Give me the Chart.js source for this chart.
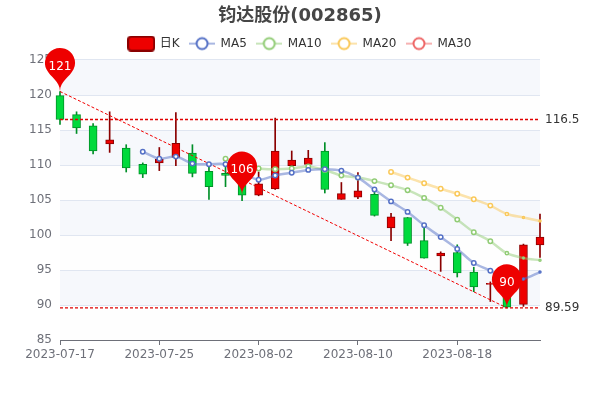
<!DOCTYPE html>
<html>
<head>
<meta charset="utf-8">
<title>钧达股份(002865)</title>
<script src="https://cdn.jsdelivr.net/npm/chart.js@4"></script>
<style>
  html, body { margin: 0; padding: 0; background: #fff; }
  canvas { display: block; }
</style>
</head>
<body>
<canvas id="klineChart" width="600" height="400"></canvas>
<script>
const dates = ['2023-07-17','2023-07-18','2023-07-19','2023-07-20','2023-07-21','2023-07-24','2023-07-25','2023-07-26','2023-07-27','2023-07-28',
  '2023-07-31','2023-08-01','2023-08-02','2023-08-03','2023-08-04','2023-08-07','2023-08-08','2023-08-09','2023-08-10','2023-08-11',
  '2023-08-14','2023-08-15','2023-08-16','2023-08-17','2023-08-18','2023-08-21','2023-08-22','2023-08-23','2023-08-24','2023-08-25'];

// K line values
const opens  = [119.9,117.2,115.6,113.0,112.4,110.1,110.3,111.1,111.7,109.1,108.8,108.0,105.7,106.6,109.9,110.1,112.0,105.1,105.4,105.8,101.0,102.5,99.2,97.0,97.5,94.7,92.95,92.0,90.1,98.6];
const closes = [116.5,115.3,112.0,113.6,109.6,108.7,110.8,113.1,108.8,106.9,108.5,105.7,107.3,112.0,110.7,111.0,106.5,105.9,106.3,102.8,102.6,98.8,96.7,97.4,94.6,92.6,93.1,89.7,98.6,99.7];
const lows   = [115.8,114.5,111.6,111.8,109.0,108.2,109.2,109.9,108.3,105.1,106.9,104.9,105.6,106.5,109.9,110.0,106.0,105.1,105.2,102.7,99.2,98.5,96.7,94.8,94.0,91.9,90.5,89.59,89.8,96.8];
const highs  = [120.5,117.6,115.9,117.6,112.9,110.3,112.5,117.5,112.9,109.8,110.3,108.6,109.0,116.7,112.0,112.1,113.2,107.5,108.9,106.4,103.1,102.5,101.2,97.6,98.6,95.4,93.3,92.5,98.7,103.0];

const ma5  = [null,null,null,null,null,111.9,110.9,111.2,110.2,110.1,110.1,108.9,107.9,108.5,108.9,109.3,109.4,109.2,108.2,106.5,104.8,103.3,101.4,99.7,98.0,96.0,94.9,93.5,93.7,94.7];
const ma10 = [null,null,null,null,null,null,null,null,null,null,110.9,110.2,109.5,109.4,109.5,109.8,109.3,108.5,108.2,107.7,107.1,106.4,105.3,103.9,102.2,100.4,99.1,97.4,96.7,96.4];
const ma20 = [null,null,null,null,null,null,null,null,null,null,null,null,null,null,null,null,null,null,null,null,109.0,108.2,107.4,106.6,105.9,105.1,104.2,103.0,102.5,102.0];
const ma30 = dates.map(() => null);

const yTicks = [85, 90, 95, 100, 105, 110, 115, 120, 125];
const levelLines = [116.5, 89.59];
const trendFrom = [0, 120.5];
const trendTo = [27, 89.59];
const pinIndexes = [0, 11, 27];
const pinValues = [120.5, 105.7, 89.59];

const upColor = '#ee0000', upBorder = '#8a0000';
const downColor = '#00da3c', downBorder = '#008f28';
const fontFamily = '"DejaVu Sans", "Noto Sans CJK SC", sans-serif';

Chart.defaults.font.family = fontFamily;

// Legend icons
function candleIcon() {
    const c = document.createElement('canvas');
    c.width = 28; c.height = 16;
    const ctx = c.getContext('2d');
    ctx.beginPath();
    ctx.roundRect(1, 1, 26, 14, 3);
    ctx.fillStyle = upColor;
    ctx.fill();
    ctx.lineWidth = 2;
    ctx.strokeStyle = upBorder;
    ctx.stroke();
    return c;
}

function lineIcon(color) {
    const c = document.createElement('canvas');
    c.width = 26; c.height = 16;
    const ctx = c.getContext('2d');
    ctx.globalAlpha = 0.5;
    ctx.strokeStyle = color;
    ctx.lineWidth = 2;
    ctx.beginPath();
    ctx.moveTo(0, 8);
    ctx.lineTo(26, 8);
    ctx.stroke();
    ctx.globalAlpha = 1;
    ctx.beginPath();
    ctx.arc(13, 8, 5.5, 0, Math.PI * 2);
    ctx.fillStyle = '#fff';
    ctx.fill();
    ctx.lineWidth = 2;
    ctx.stroke();
    return c;
}

// Points at the far right are still small in the picture
function maRadius(ctx) {
    const fromEnd = dates.length - 1 - ctx.dataIndex;
    if (fromEnd > 2) return 2.2;
    if (fromEnd === 2) return 1.6;
    return 1;
}

function maLine(label, data, color) {
    return {
        type: 'line',
        label: label,
        data: data,
        order: 1,
        borderColor: color + '80',
        borderWidth: 2.5,
        tension: 0.3,
        pointRadius: maRadius,
        pointBackgroundColor: '#fff',
        pointBorderColor: color,
        pointBorderWidth: 1.5,
        spanGaps: false,
        clip: false
    };
}

function guideLine(label, data, color, width) {
    return {
        type: 'line',
        label: label,
        data: data,
        order: 2,
        borderColor: color,
        borderWidth: width,
        borderDash: [3, 2],
        pointRadius: 0,
        spanGaps: true,
        tension: 0,
        clip: false
    };
}

const trendData = dates.map((d, i) => i === trendFrom[0] ? trendFrom[1] : (i === trendTo[0] ? trendTo[1] : null));

// Alternating bands behind the grid
const splitAreaPlugin = {
    id: 'splitArea',
    beforeDraw(chart) {
        const y = chart.scales.y, area = chart.chartArea, ctx = chart.ctx;
        ctx.save();
        for (let i = 0; i < yTicks.length - 1; i++) {
            const top = y.getPixelForValue(yTicks[i + 1]);
            const bottom = y.getPixelForValue(yTicks[i]);
            ctx.fillStyle = i % 2 ? 'rgba(210,219,238,0.2)' : 'rgba(250,250,250,0.2)';
            ctx.fillRect(area.left, top, area.right - area.left, bottom - top);
        }
        ctx.restore();
    }
};

// Pins
const markPlugin = {
    id: 'marks',
    afterDatasetsDraw(chart) {
        const xs = chart.scales.x, ys = chart.scales.y, ctx = chart.ctx;
        ctx.save();
        ctx.font = '12px ' + fontFamily;
        ctx.textBaseline = 'middle';
        ctx.textAlign = 'center';
        pinIndexes.forEach((idx, i) => {
            const x = xs.getPixelForValue(idx);
            const y = ys.getPixelForValue(pinValues[i]);
            const r = 15, h = 50;
            const dy = r * r / (h - r);
            const cy = y - h + r + dy;
            const angle = Math.asin(dy / r);
            const dx = Math.cos(angle) * r;
            const tanX = Math.sin(angle), tanY = Math.cos(angle);
            const cp = r * 0.6, cp2 = r * 0.7;
            ctx.beginPath();
            ctx.moveTo(x - dx, cy + dy);
            ctx.arc(x, cy, r, Math.PI - angle, Math.PI * 2 + angle);
            ctx.bezierCurveTo(x + dx - tanX * cp, cy + dy + tanY * cp, x, y - cp2, x, y);
            ctx.bezierCurveTo(x, y - cp2, x - dx + tanX * cp, cy + dy + tanY * cp, x - dx, cy + dy);
            ctx.closePath();
            ctx.fillStyle = upColor;
            ctx.fill();
            ctx.fillStyle = '#fff';
            ctx.fillText(pinValues[i].toFixed(0), x, y - 25);
        });
        ctx.restore();
    }
};

const isUp = i => closes[i] >= opens[i];

new Chart(document.getElementById('klineChart').getContext('2d'), {
    data: {
        labels: dates,
        datasets: [
            {
                type: 'bar',
                label: 'wick',
                data: lows.map((l, i) => [l, highs[i]]),
                order: 4,
                grouped: false,
                barThickness: 1,
                backgroundColor: ctx => isUp(ctx.dataIndex) ? upBorder : downBorder,
                borderWidth: 0,
                clip: false
            },
            {
                type: 'bar',
                label: '日K',
                data: opens.map((o, i) => [o, closes[i]]),
                order: 3,
                grouped: false,
                barThickness: 8,
                backgroundColor: ctx => isUp(ctx.dataIndex) ? upColor : downColor,
                borderColor: ctx => isUp(ctx.dataIndex) ? upBorder : downBorder,
                borderWidth: 1,
                borderSkipped: false,
                clip: false
            },
            guideLine('high level', dates.map(() => levelLines[0]), '#e00000', 1.3),
            guideLine('low level', dates.map(() => levelLines[1]), '#e00000', 1.3),
            guideLine('trend', trendData, '#f00000', 1),
            maLine('MA5', ma5, '#5470c6'),
            maLine('MA10', ma10, '#91cc75'),
            maLine('MA20', ma20, '#fac858'),
            maLine('MA30', ma30, '#ee6666')
        ]
    },
    options: {
        responsive: false,
        animation: false,
        plugins: {
            tooltip: { enabled: false },
            title: {
                display: true,
                text: '钧达股份(002865)',
                color: '#464646',
                font: { size: 18, weight: 'bold', family: fontFamily },
                padding: { top: 6, bottom: 0 }
            },
            legend: {
                display: true,
                labels: {
                    color: '#333',
                    font: { size: 12, family: fontFamily },
                    usePointStyle: true,
                    pointStyleWidth: 25,
                    boxHeight: 12,
                    padding: 10,
                    generateLabels() {
                        const icons = [candleIcon(), lineIcon('#5470c6'), lineIcon('#91cc75'), lineIcon('#fac858'), lineIcon('#ee6666')];
                        return ['日K', 'MA5', 'MA10', 'MA20', 'MA30'].map((text, i) => ({
                            text: text,
                            pointStyle: icons[i],
                            datasetIndex: i + 1,
                            fontColor: '#333',
                            lineWidth: 0
                        }));
                    }
                }
            }
        },
        scales: {
            x: {
                type: 'category',
                offset: false,
                grid: { offset: false, drawOnChartArea: false, tickLength: 5, tickColor: '#6e7079' },
                border: { color: '#6e7079' },
                afterBuildTicks(scale) {
                    scale.ticks = scale.ticks.filter(t => t.value % 6 === 0);
                },
                afterFit(scale) { scale.height = 60; },
                ticks: {
                    autoSkip: false,
                    maxRotation: 0,
                    padding: 3,
                    color: '#6e7079',
                    font: { size: 12 }
                }
            },
            // Empty axis, only a small gap under the legend
            topGap: {
                axis: 'x',
                type: 'category',
                position: 'top',
                afterFit(scale) { scale.height = 0.4; },
                grid: { display: false, drawTicks: false },
                border: { display: false },
                ticks: { display: false }
            },
            y: {
                min: 85,
                max: 125,
                afterBuildTicks(scale) {
                    scale.ticks = yTicks.map(v => ({ value: v }));
                },
                afterFit(scale) { scale.width = 60; },
                grid: { color: '#e0e6f1', drawTicks: false },
                border: { display: false },
                ticks: {
                    padding: 8,
                    color: '#6e7079',
                    font: { size: 12 }
                }
            },
            // Right axis only carries the two level labels
            levels: {
                position: 'right',
                min: 85,
                max: 125,
                afterBuildTicks(scale) {
                    scale.ticks = levelLines.map(v => ({ value: v }));
                },
                afterFit(scale) { scale.width = 60; },
                grid: { display: false, drawTicks: false },
                border: { display: false },
                ticks: {
                    padding: 5,
                    color: '#333',
                    font: { size: 12 },
                    callback: v => String(v)
                }
            }
        }
    },
    plugins: [splitAreaPlugin, markPlugin]
});
</script>
</body>
</html>
